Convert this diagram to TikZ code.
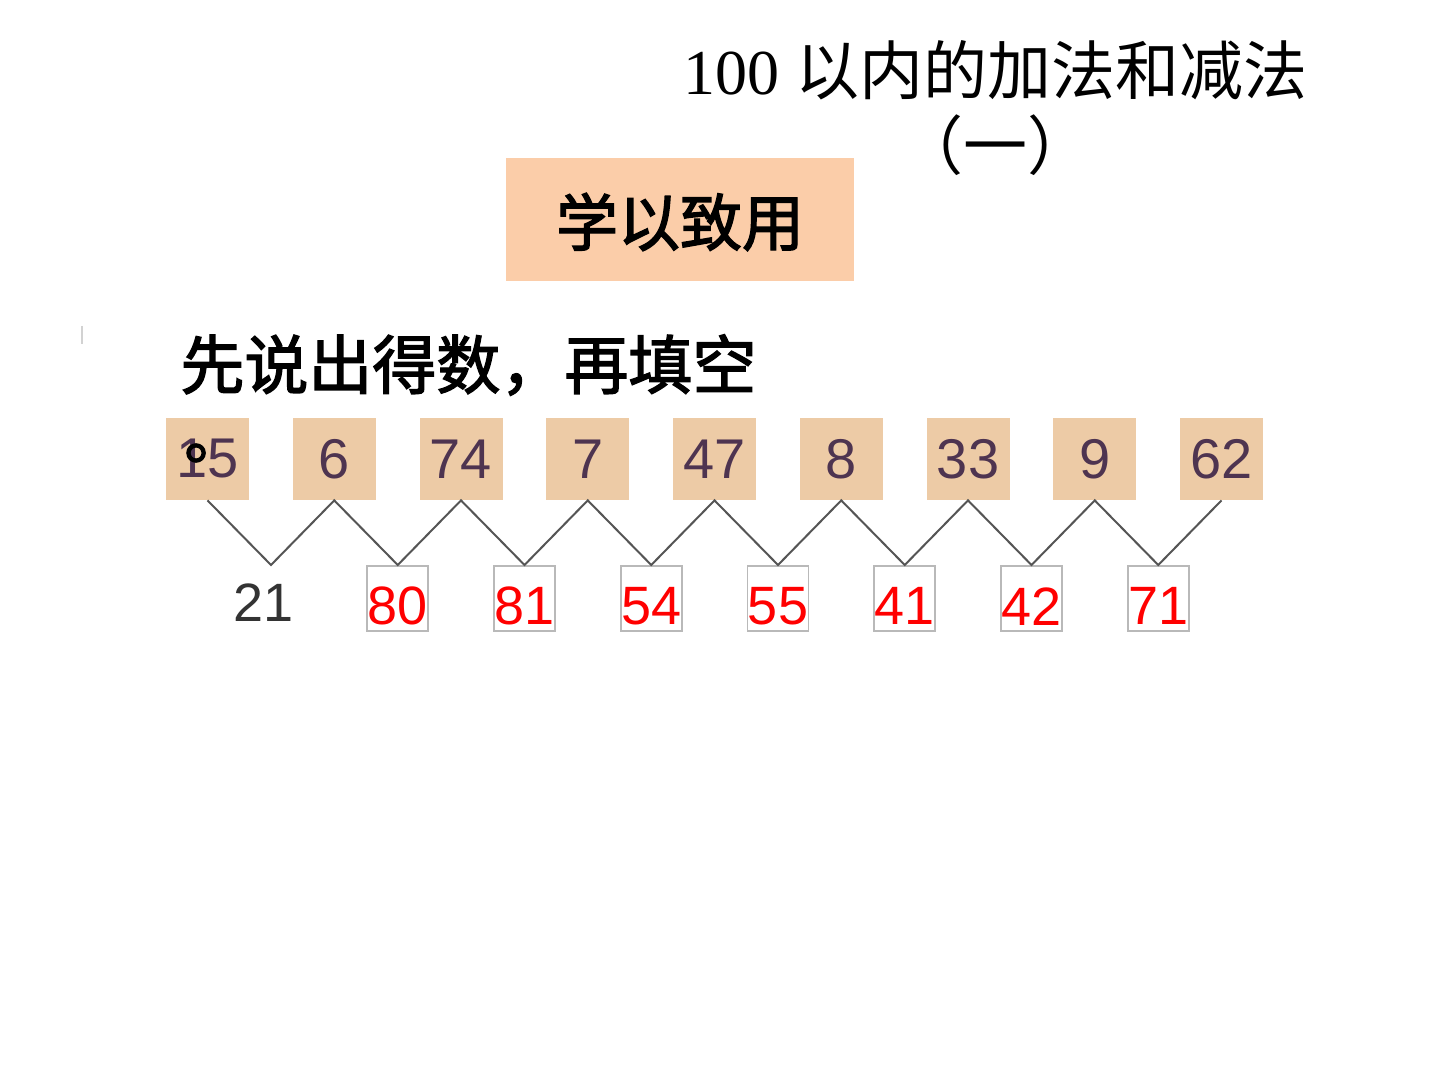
\documentclass[tikz,border=0pt]{standalone}
\usepackage{fontspec}
\setmainfont{Liberation Serif}
\newfontfamily\cjk{Noto Sans CJK SC}
\newfontfamily\cjkb[FakeBold=2.2]{Noto Sans CJK SC}
\newfontfamily\arial{Liberation Sans}
\definecolor{tanc}{HTML}{EDCBA6}
\definecolor{numc}{HTML}{4E3450}
\definecolor{headc}{HTML}{FBCDA9}
\definecolor{zigc}{HTML}{555555}
\begin{document}
\begin{tikzpicture}[x=0.5pt,y=-0.5pt,
  numbox/.style={fill=tanc, minimum width=41.5pt, minimum height=41pt, inner sep=0pt,
    font=\arial\fontsize{28}{28}\selectfont, text=numc},
  resbox/.style={draw=gray!55, line width=0.8pt, fill=white, minimum width=30.5pt,
    minimum height=32.5pt, inner sep=0pt, anchor=north},
  restext/.style={font=\arial\fontsize{27}{27}\selectfont, text=red, inner sep=0pt},
  zig/.style={draw=zigc, line width=1pt},
  titletext/.style={font=\fontsize{32}{32}\selectfont, inner sep=0pt},
  boldcjk/.style={font=\cjkb\fontsize{31}{31}\selectfont, inner sep=0pt}
]
\useasboundingbox[fill=white] (0,0) rectangle (1440,1080);

% title
\node[titletext] (title1) at (995,70) {100 {\cjk 以内的加法和减法}};
\node[titletext] (title2) at (995,145) {\cjk （一）};

% header box
\node[fill=headc, minimum width=174pt, minimum height=61.5pt, inner sep=0pt] (head) at (680,219.5) {};
\node[boldcjk] (headtext) at (680,222) {学以致用};

% faint mark
\draw[gray!35, line width=1pt] (82,326) coordinate (m1) -- (82,344) coordinate (m2);

% instruction
\node[boldcjk, font=\cjkb\fontsize{32}{32}\selectfont, anchor=west] (instr) at (180,365) {先说出得数，再填空};

% top number boxes
\foreach \v [count=\i from 0] in {15,6,74,7,47,8,33,9,62}
  \node[numbox] (t\i) at ({207.5+126.75*\i},459) {\v};

% wrapped full stop of the instruction
\node[boldcjk, font=\cjkb\fontsize{30}{30}\selectfont, anchor=west] (period) at (184,453) {。};

% bottom vertices
\foreach \i in {0,...,7}
  \coordinate (b\i) at ({271+126.75*\i},565);

% result boxes
\foreach \i in {1,...,7}
  \node[resbox] (r\i) at (b\i) {};

% zigzag
\draw[zig] (t0.south) -- (b0) -- (t1.south) -- (b1) -- (t2.south) -- (b2) -- (t3.south) -- (b3)
  -- (t4.south) -- (b4) -- (t5.south) -- (b5) -- (t6.south) -- (b6) -- (t7.south) -- (b7) -- (t8.south);

% given result
\node[restext, text=black!80] (given) at (264,603) {21};

% answers
\foreach \v [count=\i from 1] in {80,81,54,55,41,42,71}
  \node[restext] (a\i) at ([yshift=-4pt]r\i.center) {\v};
\end{tikzpicture}
\end{document}
